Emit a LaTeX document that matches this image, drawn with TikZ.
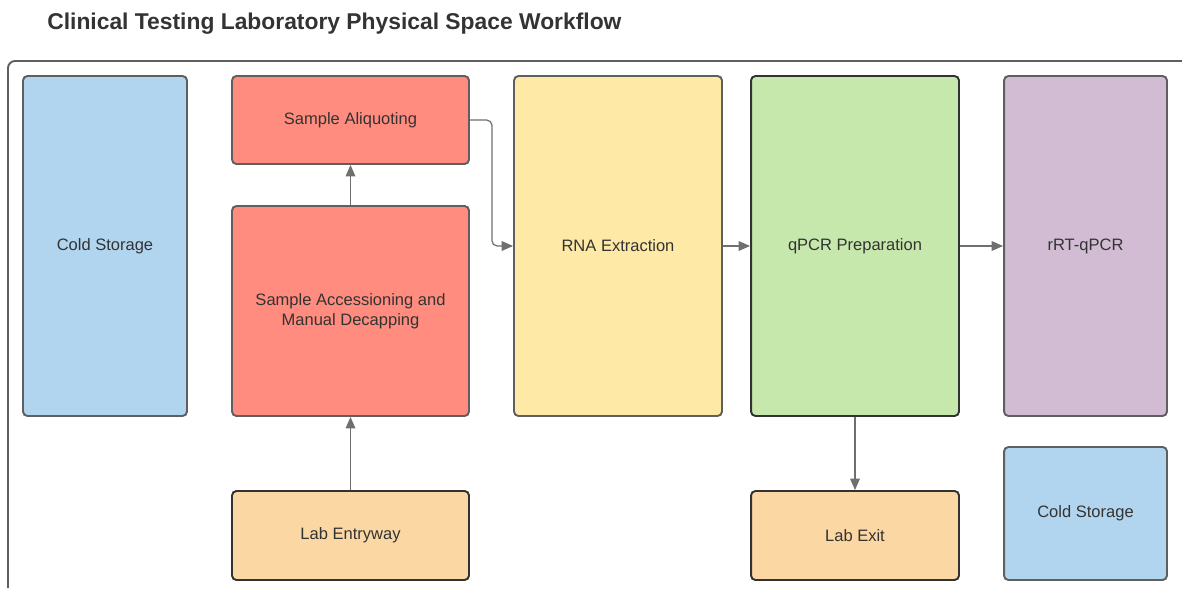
\documentclass[tikz,border=0pt]{standalone}
\usepackage{fontspec}
\setmainfont{Liberation Sans}
\usetikzlibrary{arrows.meta,positioning}
\definecolor{coldblue}{RGB}{178,213,239}
\definecolor{salmonred}{RGB}{255,140,126}
\definecolor{extractyellow}{RGB}{255,233,166}
\definecolor{prepgreen}{RGB}{199,232,173}
\definecolor{pcrpurple}{RGB}{210,188,211}
\definecolor{doororange}{RGB}{251,215,164}
\definecolor{edgegray}{RGB}{95,95,95}
\definecolor{edgedark}{RGB}{50,50,50}
\definecolor{textgray}{RGB}{51,51,51}

\begin{document}
\begin{tikzpicture}[x=0.02cm, y=-0.02cm,
    room/.style={draw=edgegray, line width=1.1pt, rounded corners=2.5pt,
        align=center, font=\fontsize{9.4}{11.5}\selectfont, text=textgray},
    flow/.style={draw=edgegray!90, line width=0.7pt,
        -{Triangle[length=6.5pt,width=5.5pt]}}]
    \useasboundingbox (0,0) rectangle (1182,588);

    % Title
    \node[anchor=west, inner sep=0pt, font=\bfseries\fontsize{13}{16}\selectfont, text=textgray]
        (title) at (47,24) {Clinical Testing Laboratory Physical Space Workflow};

    % Outer lab wall
    \draw[edgegray, line width=1.1pt, rounded corners=4pt] (8,588) |- (1182,61);

    % Storage
    \node[room, fill=coldblue, minimum width=3.28cm, minimum height=6.8cm]
        (coldA) at (105,246) {Cold Storage};
    \node[room, fill=coldblue, minimum width=3.26cm, minimum height=2.66cm]
        (coldB) at (1085.5,513.5) {Cold Storage};

    % Sample handling
    \node[room, fill=salmonred, minimum width=4.74cm, minimum height=1.76cm]
        (aliq) at (350.5,120) {Sample Aliquoting};
    \node[room, fill=salmonred, minimum width=4.74cm, minimum height=4.2cm]
        (access) at (350.5,311) {Sample Accessioning and\\Manual Decapping};

    % Testing rooms
    \node[room, fill=extractyellow, minimum width=4.16cm, minimum height=6.8cm]
        (rna) at (618,246) {RNA Extraction};
    \node[room, draw=edgedark, fill=prepgreen, minimum width=4.16cm, minimum height=6.8cm]
        (qpcr) at (855,246) {qPCR Preparation};
    \node[room, fill=pcrpurple, minimum width=3.26cm, minimum height=6.8cm]
        (rrt) at (1085.5,246) {rRT-qPCR};

    % Doors
    \node[room, draw=edgedark, fill=doororange, minimum width=4.74cm, minimum height=1.78cm]
        (entry) at (350.5,535.5) {Lab Entryway};
    \node[room, draw=edgedark, fill=doororange, minimum width=4.16cm, minimum height=1.78cm]
        (exit) at (855,535.5) {Lab Exit};

    % Workflow
    \draw[flow] (entry) -- (access);
    \draw[flow] (access) -- (aliq);
    \draw[flow, rounded corners=3pt] (aliq.east) -- ++(22,0) |- (rna.west);
    \draw[flow] (rna) -- (qpcr);
    \draw[flow] (qpcr) -- (rrt);
    \draw[flow] (qpcr) -- (exit);
\end{tikzpicture}
\end{document}
